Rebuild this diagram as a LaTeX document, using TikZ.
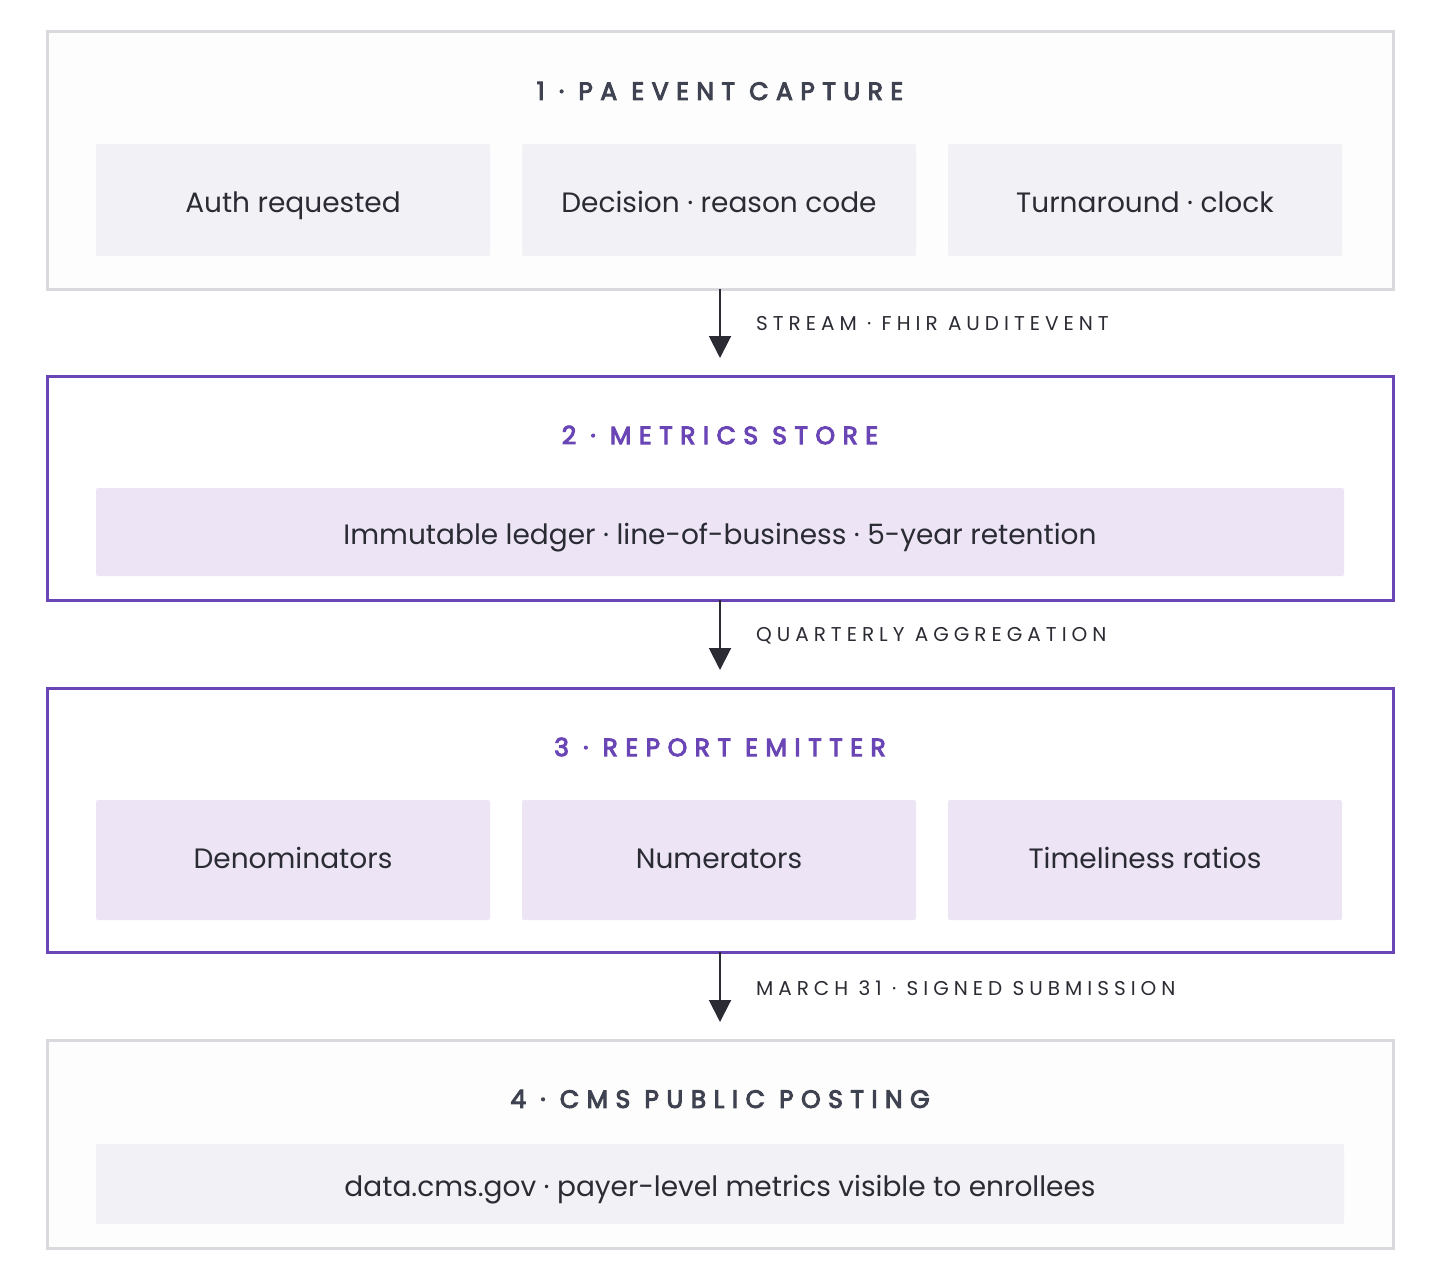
\documentclass[tikz,border=0pt]{standalone}
\usepackage{fontspec}
\setmainfont{Poppins}
\newfontfamily\titlefont[LetterSpace=30,FakeBold=4]{Poppins}
\newfontfamily\labfont[LetterSpace=25]{Poppins}
\usetikzlibrary{arrows.meta}
\definecolor{gb}{HTML}{D9D9DE}
\definecolor{gf}{HTML}{FDFDFD}
\definecolor{gi}{HTML}{F2F2F6}
\definecolor{pb}{HTML}{6A45B5}
\definecolor{pi}{HTML}{EDE5F6}
\definecolor{tx}{HTML}{2A2B33}
\definecolor{tt}{HTML}{3F4250}
\begin{document}
\begin{tikzpicture}[x=0.5pt,y=-0.5pt,
 outg/.style={draw=gb,line width=1.5pt,fill=gf},
 outp/.style={draw=pb,line width=1.5pt,fill=white},
 ing/.style={fill=gi,rounded corners=1pt},
 inp/.style={fill=pi,rounded corners=1pt},
 ttl/.style={font=\titlefont\fontsize{12.5}{14}\selectfont,text=tt},
 ttp/.style={ttl,text=pb},
 body/.style={font=\fontsize{14}{16}\selectfont,text=tx,text height=10.5pt,text depth=3.5pt},
 lab/.style={font=\labfont\fontsize{10}{12}\selectfont,text=tx,anchor=west},
 arr/.style={draw=tx,line width=1pt,-{Triangle[length=11pt,width=11pt]}}]
\useasboundingbox (0,0) rectangle (1440,1280);
% box 1
\draw[outg] (47,31) rectangle (1393,289);
\coordinate (b1s) at (720,289);
\node[ttl] (t1) at (720,91) {1 · PA EVENT CAPTURE};
\fill[ing] (96,144) rectangle (490,256); \node[body] (a1) at (293,205) {Auth requested};
\fill[ing] (522,144) rectangle (916,256); \node[body] (a2) at (719,205) {Decision · reason code};
\fill[ing] (948,144) rectangle (1342,256); \node[body] (a3) at (1145,205) {Turnaround · clock};
% box 2
\draw[outp] (47,376) rectangle (1393,600);
\coordinate (b2n) at (720,358);
\coordinate (b2s) at (720,600);
\node[ttp] (t2) at (720,435) {2 · METRICS STORE};
\fill[inp] (96,488) rectangle (1344,576); \node[body] (m1) at (720,537) {Immutable ledger · line-of-business · 5-year retention};
% box 3
\draw[outp] (47,688) rectangle (1393,952);
\coordinate (b3n) at (720,670);
\coordinate (b3s) at (720,952);
\node[ttp] (t3) at (720,747) {3 · REPORT EMITTER};
\fill[inp] (96,800) rectangle (490,920); \node[body] (r1) at (293,861) {Denominators};
\fill[inp] (522,800) rectangle (916,920); \node[body] (r2) at (719,861) {Numerators};
\fill[inp] (948,800) rectangle (1342,920); \node[body] (r3) at (1145,861) {Timeliness ratios};
% box 4
\draw[outg] (47,1040) rectangle (1393,1248);
\coordinate (b4n) at (720,1022);
\node[ttl] (t4) at (720,1099) {4 · CMS PUBLIC POSTING};
\fill[ing] (96,1144) rectangle (1344,1224); \node[body] (p1) at (720,1189) {data.cms.gov · payer-level metrics visible to enrollees};
% arrows
\draw[arr] (b1s) -- (b2n);
\node[lab] (l1) at (749,324) {STREAM · FHIR AUDITEVENT};
\draw[arr] (b2s) -- (b3n);
\node[lab] (l2) at (749,636) {QUARTERLY AGGREGATION};
\draw[arr] (b3s) -- (b4n);
\node[lab] (l3) at (749,988) {MARCH 31 · SIGNED SUBMISSION};
\end{tikzpicture}
\end{document}
